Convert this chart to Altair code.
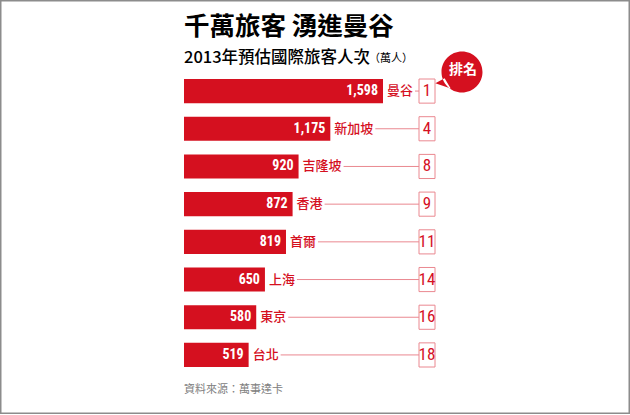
import altair as alt
import pandas as pd

# ---- data ----
cities = ["曼谷", "新加坡", "吉隆坡", "香港", "首爾", "上海", "東京", "台北"]
visitors = [1598, 1175, 920, 872, 819, 650, 580, 519]   # 萬人
ranks = [1, 4, 8, 9, 11, 14, 16, 18]

title_text = "千萬旅客 湧進曼谷"
subtitle_text = "2013年預估國際旅客人次"
unit_text = "（萬人）"
source_text = "資料來源：萬事達卡"
badge_text = "排名"

# ---- styles ----
RED = "#d5101f"
PINK = "#ea8890"
CJK = "Noto Sans CJK TC"
NUM = "Liberation Sans Narrow, Roboto Condensed, Noto Sans CJK TC, sans-serif"

df = pd.DataFrame({"city": cities, "value": visitors, "rank": [str(r) for r in ranks]})
df["label"] = df["value"].map(lambda v: f"{v:,}")

X_RANGE = [184, 383]
units_per_px = max(visitors) / (X_RANGE[1] - X_RANGE[0])
xs = alt.Scale(domain=[0, max(visitors)], range=X_RANGE)
ys = alt.Scale(domain=cities, range=[79, 367], paddingInner=0.36, paddingOuter=0)

base = alt.Chart(df)
X = alt.X("value:Q", scale=xs, axis=None)
Y = alt.Y("city:N", scale=ys, axis=None, sort=cities)

bars = base.mark_bar(color=RED).encode(x=X, y=Y)

values = base.mark_text(
    align="right", baseline="middle", dx=-5, color="white",
    fontWeight="bold", fontSize=14, font=NUM
).encode(x=X, y=Y, text="label:N")

names = base.mark_text(
    align="left", baseline="middle", dx=4, color=RED,
    fontWeight=500, fontSize=13, font=CJK
).encode(x=X, y=Y, text="city:N")

rules = base.transform_calculate(
    start=f"datum.value + (6 + length(datum.city) * 13) * {units_per_px}"
).mark_rule(color=PINK, strokeWidth=1).encode(
    x=alt.X("start:Q", scale=xs, axis=None), x2=alt.value(419), y=Y
)

boxes = base.mark_rect(fill="white", stroke=PINK, strokeWidth=1).encode(
    x=alt.value(419), x2=alt.value(435), y=Y
)

rank_text = base.mark_text(
    align="center", baseline="middle", color=RED, fontSize=17, font=NUM
).encode(x=alt.value(427), y=Y, text="rank:N")

# badge
badge_df = pd.DataFrame({"t": [badge_text]})
badge_path = ("M-1,0A1,1,0,1,1,1,0A1,1,0,1,1,-1,0Z "
              "M-0.85,0.3L-1.3,0.55L-0.55,0.8Z")
badge = alt.Chart(badge_df).mark_point(
    shape=badge_path, filled=True, color=RED, opacity=1, size=1680, strokeWidth=0
).encode(x=alt.value(462), y=alt.value(72))
badge_label = alt.Chart(badge_df).mark_text(
    align="center", baseline="middle", color="white", fontWeight="bold",
    fontSize=14, font=CJK
).encode(x=alt.value(463), y=alt.value(70), text="t:N")

def label(text, x, y, size, color="black", weight="normal", font=CJK):
    d = pd.DataFrame({"t": [text]})
    return alt.Chart(d).mark_text(
        align="left", baseline="middle", color=color, fontSize=size,
        fontWeight=weight, font=font
    ).encode(x=alt.value(x), y=alt.value(y), text="t:N")

title = label(title_text, 184, 27, 25.5, weight="bold")
subtitle = label(subtitle_text, 184, 58, 16.5, weight=500)
unit = label(unit_text, 369, 59, 11)
source = label(source_text, 184, 390, 11, color="#808080")

chart = alt.layer(
    bars, rules, values, names, boxes, rank_text,
    badge, badge_label, title, subtitle, unit, source
).properties(
    width=630, height=414, padding=0, autosize="none", background="white"
).configure_view(stroke="#8c8c8c", strokeWidth=3)

chart.save("out.html", embed_options={"renderer": "svg", "actions": False})
